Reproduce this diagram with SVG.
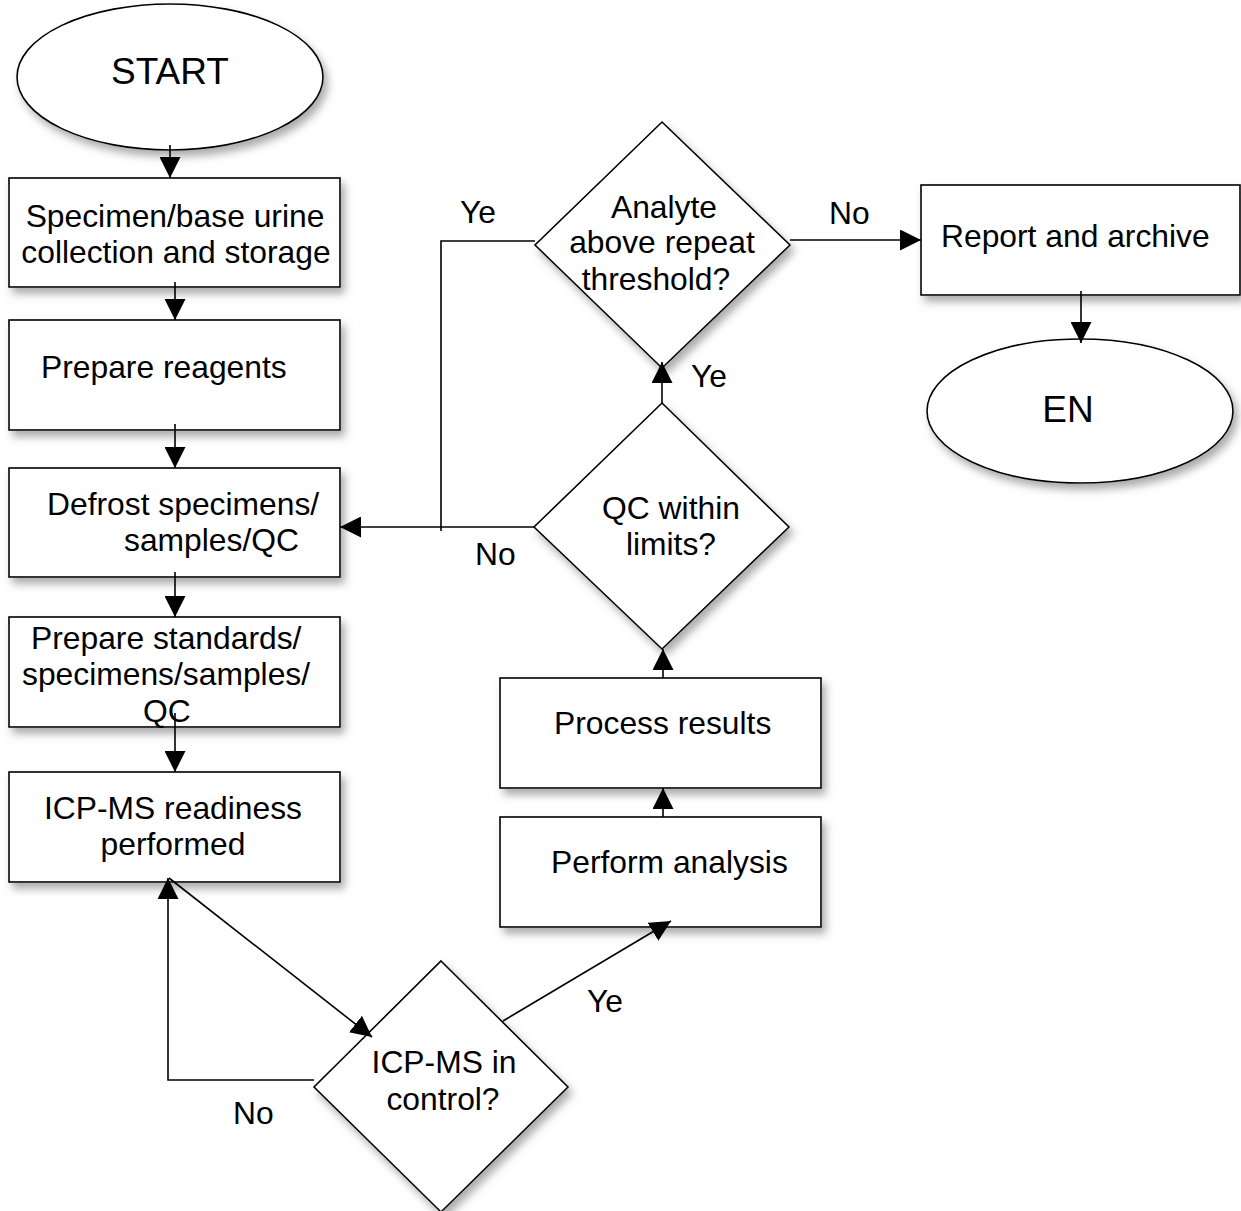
<svg xmlns="http://www.w3.org/2000/svg" width="1241" height="1211" viewBox="0 0 1241 1211">
<style>
.shape{fill:#fff;stroke:#000;stroke-width:1.6;filter:url(#sh)}
.t{font-family:"Liberation Sans",Arial,sans-serif;font-size:31.8px;fill:#000}
.m{text-anchor:middle}
.big{font-size:37px}
.c{fill:none;stroke:#000;stroke-width:1.6}
</style>
<defs>
<filter id="sh" x="-20%" y="-20%" width="140%" height="140%">
<feDropShadow dx="4" dy="6" stdDeviation="4.5" flood-color="#666" flood-opacity="0.55"/>
</filter>
<marker id="ah" markerUnits="userSpaceOnUse" markerWidth="21" markerHeight="21" refX="21" refY="10.5" orient="auto">
<path d="M0,0 L21,10.5 L0,21 z" fill="#000"/>
</marker>
</defs>
<rect width="1241" height="1211" fill="#fff"/>
<g id="start"><ellipse class="shape" cx="170" cy="77" rx="153" ry="73"/><text class="t m big" x="170" y="84">START</text></g>
<g id="collect"><rect class="shape" x="9" y="178" width="331" height="109"/><text class="t m" x="175" y="227">Specimen/base urine</text><text class="t m" x="176" y="263">collection and storage</text></g>
<g id="reagents"><rect class="shape" x="9" y="320" width="331" height="110"/><text class="t" x="41" y="378">Prepare reagents</text></g>
<g id="defrost"><rect class="shape" x="9" y="468" width="331" height="109"/><text class="t" x="47" y="515">Defrost specimens/</text><text class="t" x="124" y="551">samples/QC</text></g>
<g id="standards"><rect class="shape" x="9" y="617" width="331" height="110"/><text class="t" x="31" y="649">Prepare standards/</text><text class="t" x="22" y="685">specimens/samples/</text><text class="t" x="143" y="722">QC</text></g>
<g id="readiness"><rect class="shape" x="9" y="772" width="331" height="110"/><text class="t m" x="173" y="819">ICP-MS readiness</text><text class="t m" x="173" y="855">performed</text></g>
<g id="incontrol"><polygon class="shape" points="441,961 568,1087 441,1212 314,1087"/><text class="t m" x="444" y="1073">ICP-MS in</text><text class="t m" x="443" y="1110">control?</text></g>
<g id="analysis"><rect class="shape" x="500" y="817" width="321" height="110"/><text class="t" x="551" y="873">Perform analysis</text></g>
<g id="process"><rect class="shape" x="500" y="678" width="321" height="110"/><text class="t" x="554" y="734">Process results</text></g>
<g id="qc"><polygon class="shape" points="662,403 789,527 662,649 534,527"/><text class="t m" x="671" y="519">QC within</text><text class="t m" x="671" y="555">limits?</text></g>
<g id="analyte"><polygon class="shape" points="662,122 790,245 662,368 535,245"/><text class="t m" x="664" y="218">Analyte</text><text class="t m" x="662" y="253">above repeat</text><text class="t m" x="656" y="290">threshold?</text></g>
<g id="report"><rect class="shape" x="921" y="185" width="319" height="110"/><text class="t" x="941" y="247">Report and archive</text></g>
<g id="end"><ellipse class="shape" cx="1080" cy="411" rx="153" ry="72"/><text class="t m big" x="1068" y="422">EN</text></g>
<g id="connectors">
<line class="c" x1="170" y1="145" x2="170" y2="178" marker-end="url(#ah)"/>
<line class="c" x1="175" y1="282" x2="175" y2="320" marker-end="url(#ah)"/>
<line class="c" x1="175" y1="424" x2="175" y2="468" marker-end="url(#ah)"/>
<line class="c" x1="175" y1="572" x2="175" y2="617" marker-end="url(#ah)"/>
<line class="c" x1="175" y1="713" x2="175" y2="772" marker-end="url(#ah)"/>
<line class="c" x1="169" y1="878" x2="372" y2="1037" marker-end="url(#ah)"/>
<polyline class="c" points="314,1080 168,1080 168,878" marker-end="url(#ah)"/>
<line class="c" x1="503" y1="1021" x2="671" y2="921" marker-end="url(#ah)"/>
<line class="c" x1="663" y1="817" x2="663" y2="788" marker-end="url(#ah)"/>
<line class="c" x1="663" y1="678" x2="663" y2="649" marker-end="url(#ah)"/>
<line class="c" x1="534" y1="527" x2="340" y2="527" marker-end="url(#ah)"/>
<line class="c" x1="662" y1="403" x2="662" y2="362" marker-end="url(#ah)"/>
<polyline class="c" points="535,241 441,241 441,531"/>
<line class="c" x1="790" y1="240" x2="921" y2="240" marker-end="url(#ah)"/>
<line class="c" x1="1081" y1="291" x2="1081" y2="343" marker-end="url(#ah)"/>
<text class="t" x="460" y="223">Ye</text>
<text class="t" x="829" y="224">No</text>
<text class="t" x="691" y="387">Ye</text>
<text class="t" x="475" y="565">No</text>
<text class="t" x="587" y="1012">Ye</text>
<text class="t" x="233" y="1124">No</text>
</g>
</svg>
